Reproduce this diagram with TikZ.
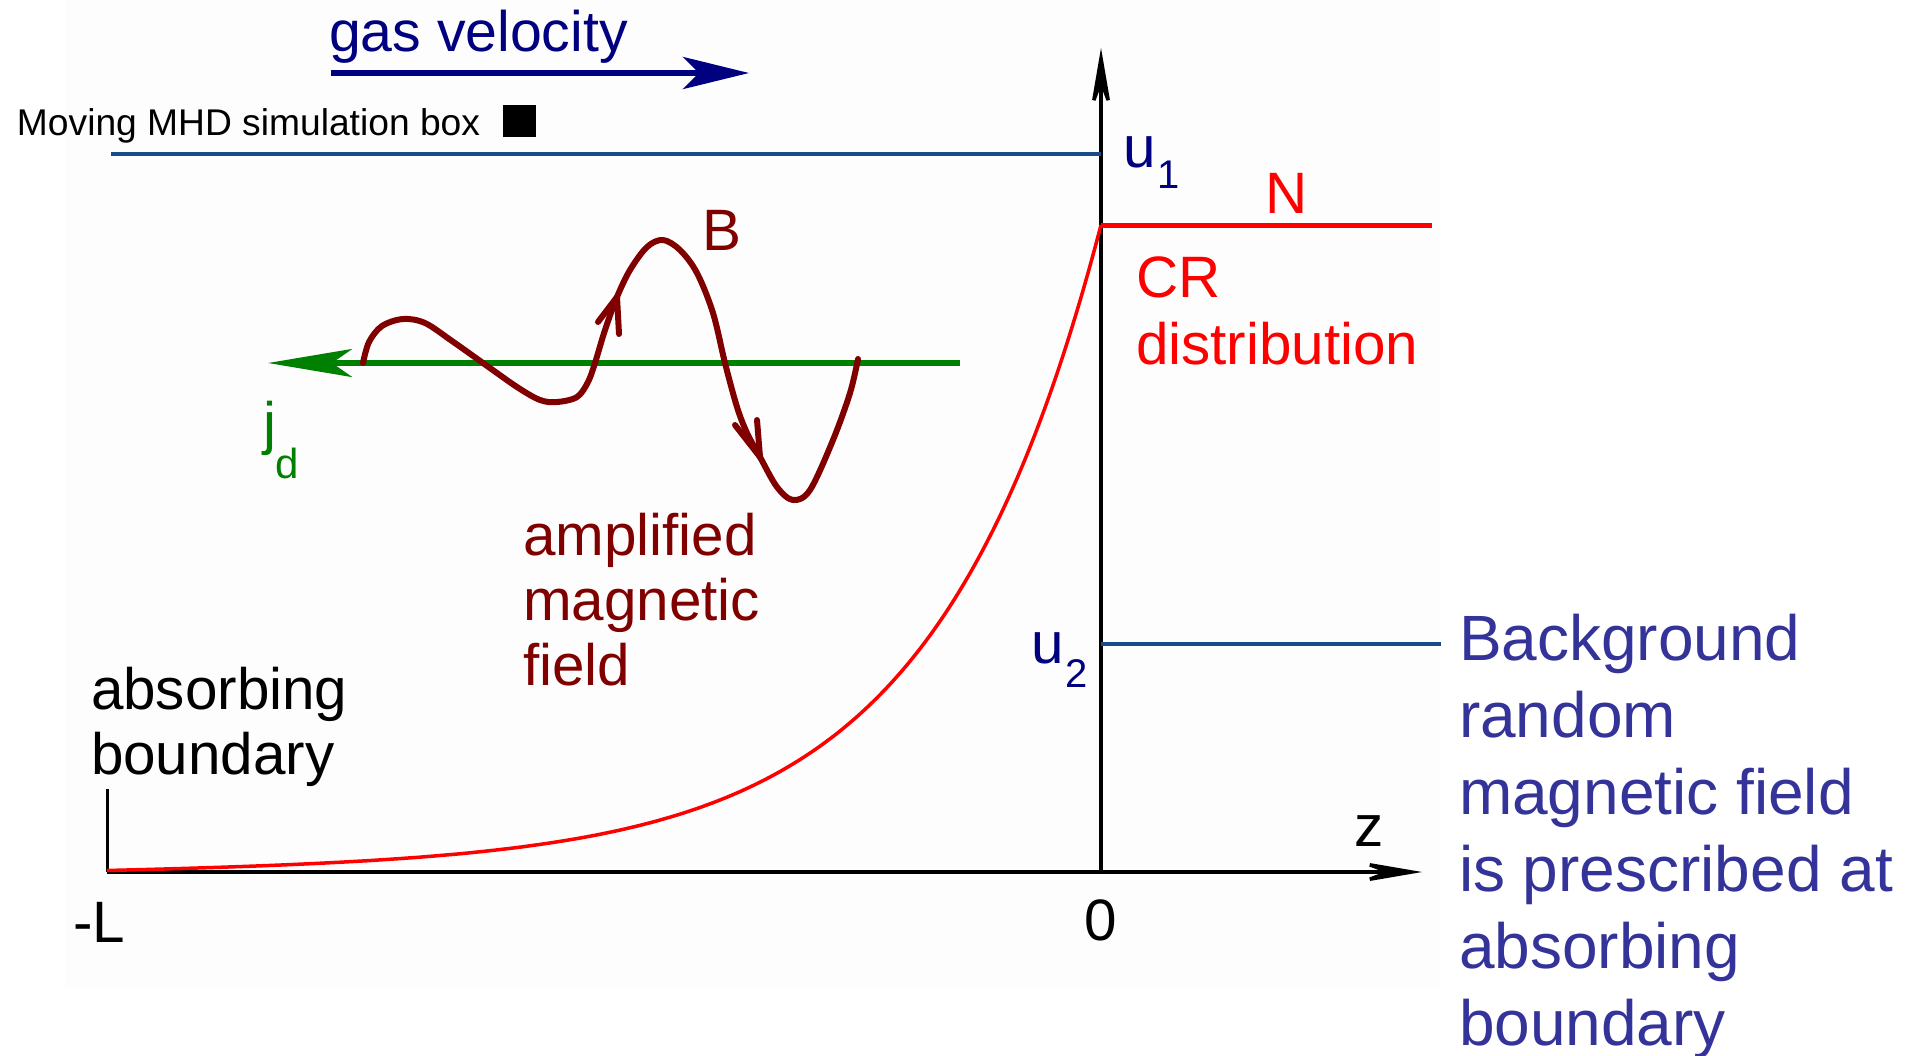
\documentclass[tikz,border=0pt]{standalone}
\usepackage{fontspec}
\setmainfont{Liberation Sans}
\usetikzlibrary{arrows.meta}
\definecolor{navyc}{RGB}{0,0,128}
\definecolor{lineblue}{RGB}{25,75,140}
\definecolor{textblue}{RGB}{51,51,153}
\definecolor{maroonc}{RGB}{128,0,0}
\definecolor{greenc}{RGB}{0,128,0}
\definecolor{redc}{RGB}{255,0,0}
\definecolor{panelc}{RGB}{253,253,253}
\begin{document}
\begin{tikzpicture}[x=0.5pt,y=-0.5pt,
  lbl/.style={inner sep=0pt, outer sep=0pt},
  big/.style={font=\fontsize{29.2}{32.5}\selectfont},
  axisline/.style={line width=1.75pt, -{Stealth[length=35pt,width=12pt,inset=16pt]}},
  velline/.style={lineblue, line width=1.75pt},
  wave/.style={maroonc, line width=3pt, line cap=round, line join=round}]
\useasboundingbox (0,0) rectangle (1909,1055);
\fill[white] (0,0) rectangle (1909,1055);
\fill[panelc] (65,0) rectangle (1440,988);

% gas velocity
\node[lbl, anchor=base west, text=navyc, font=\fontsize{28.6}{34}\selectfont] (gas) at (329,51) {gas velocity};
\coordinate (gasS) at (331,73);
\coordinate (gasE) at (749,73);
\draw[navyc, line width=3pt, -{Stealth[length=33pt,width=16pt,inset=8pt]}] (gasS) -- (gasE);

% moving box label
\node[lbl, anchor=base west, font=\fontsize{18.6}{23}\selectfont] (mov) at (17,135) {Moving MHD simulation box};
\fill (503,105) rectangle (536,137);

% axes
\coordinate (O) at (1101,872);
\coordinate (Lz) at (107,872);
\coordinate (Ltop) at (107,789);
\coordinate (zEnd) at (1422,872);
\coordinate (yEnd) at (1101,48);
\draw[axisline] (Lz) -- (zEnd);
\draw[axisline] (O) -- (yEnd);
\draw[line width=1.5pt] (Ltop) -- (Lz);

% velocity lines
\coordinate (u1L) at (111,154);
\coordinate (u1R) at (1101,154);
\draw[velline] (u1L) -- (u1R);
\coordinate (u2L) at (1101,644);
\coordinate (u2R) at (1441,644);
\draw[velline] (u2L) -- (u2R);

% CR distribution
\coordinate (Ntop) at (1101,225);
\coordinate (NR) at (1432,225);
\draw[redc, line width=2.5pt] (Ntop) -- (NR);
\draw[redc, line width=1.75pt, domain=107:1101, samples=160, smooth] plot (\x, {872-632*exp((\x-1101)/165)-15*(\x-107)/994});

% current line
\coordinate (jR) at (960,363);
\coordinate (jL) at (268,363);
\draw[greenc, line width=3pt, -{Stealth[length=42pt,width=14pt,inset=10pt]}] (jR) -- (jL);

% magnetic field wave
\draw[wave] plot[smooth, tension=0.55] coordinates {
 (363,363) (369,342) (382,326) (403,319) (425,323) (452,341) (483,363)
 (517,387) (540,400) (557,402) (577,397) (588,382) (595,363) (605,330)
 (617,297) (630,270) (647,247) (663,240) (680,250) (697,273) (713,313)
 (725,363) (737,407) (747,433) (760,457) (777,487) (793,500) (810,490)
 (833,440) (850,393) (858,359)};
\coordinate (aTip) at (617,297);
\coordinate (aW1) at (598,322);
\coordinate (aW2) at (619,334);
\draw[wave] (aW1) -- (aTip) -- (aW2);
\coordinate (bTip) at (760,457);
\coordinate (bW1) at (735,425);
\coordinate (bW2) at (757,420);
\draw[wave] (bW1) -- (bTip) -- (bW2);

% labels
\node[lbl, big, anchor=base west, text=maroonc] (B) at (702,250) {B};
\node[lbl, big, anchor=base west, text=redc] (N) at (1265,213) {N};
\node[lbl, big, anchor=base west, text=navyc] (u1) at (1123,167) {u\kern1pt\raisebox{-10.5pt}{\fontsize{20}{20}\selectfont 1}};
\node[lbl, big, anchor=base west, text=navyc] (u2) at (1031,663) {u\kern1pt\raisebox{-12pt}{\fontsize{20}{20}\selectfont 2}};
\node[lbl, anchor=north west, text=redc, align=left, font=\fontsize{29.2}{33.5}\selectfont] (cr) at (1136,257) {CR\\distribution};
\node[lbl, big, anchor=north west, text=maroonc, align=left] (amp) at (523,513) {amplified\\magnetic\\field};
\node[lbl, big, anchor=north west, align=left] (abs) at (91,667) {absorbing\\boundary};
\node[lbl, anchor=north west, text=textblue, align=left, font=\fontsize{32}{38.5}\selectfont] (bg) at (1459,614) {Background\\random\\magnetic field\\is prescribed at\\absorbing\\boundary};
\node[lbl, big, anchor=base west] (mL) at (73,942) {-L};
\node[lbl, big, anchor=base] (zero) at (1101,940) {0};
\node[lbl, big, anchor=base west] (zl) at (1354,846) {z};
\node[lbl, big, anchor=base west, text=greenc] (jd) at (263,443) {j\raisebox{-17.5pt}{\fontsize{21}{21}\selectfont d}};
\end{tikzpicture}
\end{document}
